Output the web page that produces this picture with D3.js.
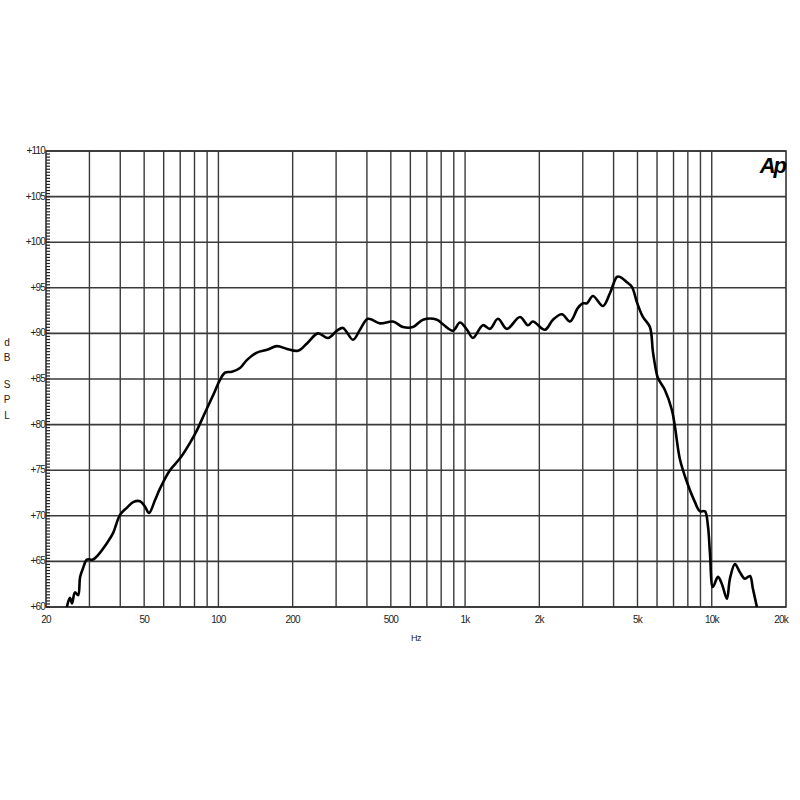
<!DOCTYPE html>
<html>
<head>
<meta charset="utf-8">
<script src="https://cdn.jsdelivr.net/npm/d3@7"></script>
<style>
  body { margin: 0; background: #fff; }
  text { font-family: "Liberation Sans", Arial, sans-serif; }
</style>
</head>
<body>
<div id="chart"></div>
<script>
// frequency response
const freqHz = [24.3, 25.0, 25.5, 26.2, 27.0, 27.5, 28.3, 29.3, 31.0, 32.5, 35.3, 37.4, 39.9, 42.6, 45.1, 48.1,
  50.4, 52.3, 55.3, 58.0, 63.6, 69.9, 76.7, 81.9, 88.2, 95.1, 101.5, 106.3, 113.5, 122.3, 130.6, 143.3,
  157.4, 172.8, 189.7, 210.2, 228.6, 253.3, 278.1, 302.5, 319.9, 351.3, 374.9, 404, 451.7, 510.1, 560.1,
  614.9, 674.9, 769.1, 813.4, 893.2, 953.3, 1018, 1076, 1181, 1261, 1359, 1478, 1669, 1798, 1884, 2107,
  2271, 2470, 2661, 2868, 3005, 3119, 3299, 3622, 3866, 4127, 4244, 4531, 4747, 4975, 5260, 5614, 5774,
  5937, 6050, 6458, 6894, 7090, 7430, 7932, 8549, 8954, 9383, 9650, 9830, 10110, 10593, 11000, 11520,
  11850, 12414, 13008, 13630, 14281, 14685, 15243];
const splDb = [60.0, 61.0, 60.4, 61.6, 61.3, 63.3, 64.3, 65.2, 65.2, 65.7, 67.0, 68.1, 70.1, 70.9, 71.5, 71.6,
  71.0, 70.3, 71.7, 73.0, 75.0, 76.3, 78.0, 79.4, 81.3, 83.2, 84.9, 85.7, 85.8, 86.2, 87.1, 87.9,
  88.2, 88.6, 88.3, 88.1, 88.9, 90.0, 89.5, 90.3, 90.6, 89.3, 90.4, 91.6, 91.1, 91.3, 90.7,
  90.7, 91.5, 91.5, 91.0, 90.3, 91.2, 90.4, 89.5, 90.9, 90.5, 91.6, 90.5, 91.8, 90.9, 91.3, 90.4,
  91.5, 92.1, 91.3, 92.8, 93.3, 93.3, 94.1, 93.0, 94.4, 96.2, 96.2, 95.6, 95.1, 93.4, 91.8, 90.7, 88.0,
  86.0, 85.1, 83.8, 81.6, 79.8, 76.2, 73.7, 71.5, 70.5, 70.5, 68.9, 66.0, 62.2, 63.3, 62.5, 60.9,
  63.1, 64.7, 63.8, 63.1, 63.4, 62.0, 60.0];

const xTickVals = [20, 50, 100, 200, 500, 1000, 2000, 5000, 10000, 20000];
const xTickLabels = ["20", "50", "100", "200", "500", "1k", "2k", "5k", "10k", "20k"];
const yTickVals = [60, 65, 70, 75, 80, 85, 90, 95, 100, 105, 110];
const yTickLabels = ["+60", "+65", "+70", "+75", "+80", "+85", "+90", "+95", "+100", "+105", "+110"];

const width = 800, height = 800;
const plotLeft = 46, plotRight = 786, plotTop = 151, plotBottom = 607;

const svg = d3.select("#chart").append("svg")
  .attr("width", width).attr("height", height);

const x = d3.scaleLog().domain([20, 20000]).range([plotLeft, plotRight]);
const y = d3.scaleLinear().domain([60, 110]).range([plotBottom, plotTop]);

// vertical grid: every 1-2-3...9 step of each decade
const gridFreqs = [];
[10, 100, 1000, 10000].forEach(d => {
  for (let m = 1; m <= 9; m++) {
    const f = d * m;
    if (f > 20 && f < 20000) gridFreqs.push(f);
  }
});

svg.append("g").selectAll("line").data(gridFreqs).enter().append("line")
  .attr("x1", d => x(d)).attr("x2", d => x(d))
  .attr("y1", plotTop).attr("y2", plotBottom)
  .attr("stroke", "#3a3a3a").attr("stroke-width", 1.4);

svg.append("g").selectAll("line").data(yTickVals).enter().append("line")
  .attr("x1", plotLeft).attr("x2", plotRight)
  .attr("y1", d => y(d)).attr("y2", d => y(d))
  .attr("stroke", "#3a3a3a").attr("stroke-width", 1.6);

// frame
svg.append("rect")
  .attr("x", plotLeft).attr("y", plotTop)
  .attr("width", plotRight - plotLeft).attr("height", plotBottom - plotTop)
  .attr("fill", "none").attr("stroke", "#333").attr("stroke-width", 1.6);

// small ticks on the left axis
svg.append("g").selectAll("line").data(d3.range(60, 110, 1 / 3)).enter().append("line")
  .attr("x1", plotLeft).attr("x2", plotLeft + 4)
  .attr("y1", d => y(d)).attr("y2", d => y(d))
  .attr("stroke", "#222").attr("stroke-width", 1.2);

// curve
svg.append("defs").append("clipPath").attr("id", "plotclip")
  .append("rect").attr("x", plotLeft).attr("y", plotTop)
  .attr("width", plotRight - plotLeft).attr("height", plotBottom - plotTop);

const line = d3.line()
  .x((d, i) => x(freqHz[i]))
  .y(d => y(d))
  .curve(d3.curveCatmullRom.alpha(0.5));

svg.append("path")
  .datum(splDb)
  .attr("clip-path", "url(#plotclip)")
  .attr("d", line)
  .attr("fill", "none")
  .attr("stroke", "#000")
  .attr("stroke-width", 2.6)
  .attr("stroke-linejoin", "round");

// y tick labels
svg.append("g").selectAll("text").data(yTickVals).enter().append("text")
  .attr("x", plotLeft - 1).attr("y", d => y(d) + 3)
  .attr("text-anchor", "end")
  .attr("font-size", 10).attr("letter-spacing", -0.8)
  .attr("fill", "#222")
  .text((d, i) => yTickLabels[i]);

// x tick labels
svg.append("g").selectAll("text").data(xTickVals).enter().append("text")
  .attr("x", (d, i) => x(d) + (i === xTickVals.length - 1 ? -5 : 0))
  .attr("y", 623)
  .attr("text-anchor", "middle")
  .attr("font-size", 10).attr("letter-spacing", -0.8)
  .attr("fill", "#222")
  .text((d, i) => xTickLabels[i]);

svg.append("text")
  .attr("x", 416).attr("y", 641)
  .attr("text-anchor", "middle")
  .attr("font-size", 9).attr("letter-spacing", -0.5)
  .attr("fill", "#222")
  .text("Hz");

// y title, stacked letters
const yTitle = [["d", 346], ["B", 361], ["S", 388], ["P", 403], ["L", 419]];
svg.append("g").selectAll("text").data(yTitle).enter().append("text")
  .attr("x", 7).attr("y", d => d[1])
  .attr("text-anchor", "middle")
  .attr("font-size", 10)
  .attr("fill", "#222")
  .text(d => d[0]);

// Ap logo
svg.append("text")
  .attr("x", 785).attr("y", 173)
  .attr("text-anchor", "end")
  .attr("font-size", 22).attr("font-weight", "bold").attr("font-style", "italic")
  .attr("letter-spacing", -2)
  .attr("fill", "#000")
  .text("Ap");
</script>
</body>
</html>
